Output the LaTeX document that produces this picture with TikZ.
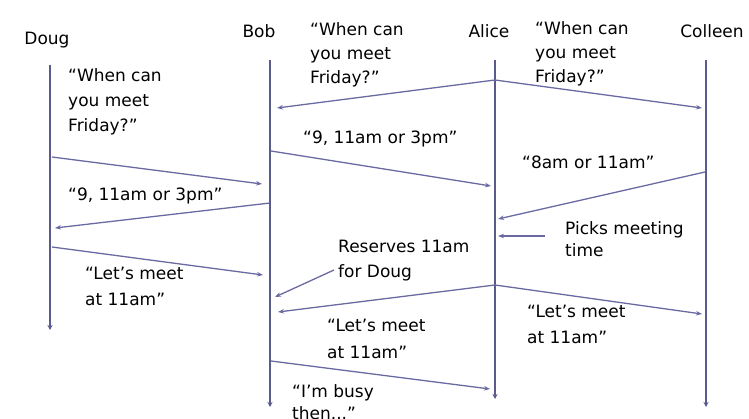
\documentclass[tikz,border=0pt]{standalone}
\usepackage{fontspec}
\setmainfont{DejaVu Sans}
\usetikzlibrary{arrows.meta}
\definecolor{lifeblue}{HTML}{5A5A8C}
\definecolor{msgblue}{HTML}{6A6AA2}
\begin{document}
\begin{tikzpicture}[x=1pt,y=-1pt,
  lifeline/.style={draw=lifeblue, line width=1.8pt, -{Stealth[length=5pt,width=5pt]}},
  msg/.style={draw=msgblue, line width=1.3pt, -{Stealth[length=6pt,width=4.5pt]}},
  who/.style={font=\fontsize{17}{20}\selectfont, inner sep=0pt, anchor=base},
  % anchored at the baseline of the last line; argument = line spacing
  note/.style={font=\fontsize{17}{#1}\selectfont, inner sep=0pt, anchor=base west, align=left},
  note/.default=24]
\useasboundingbox (0,0) rectangle (749,419);

% participants
\node[who] (doug)    at (47,45)  {Doug};
\node[who] (bob)     at (259,38) {Bob};
\node[who] (alice)   at (489,38) {Alice};
\node[who] (colleen) at (712,38) {Colleen};

% lifelines
\coordinate (dougT) at (50,65);   \coordinate (dougB) at (50,330);
\coordinate (bobT)  at (270,60);  \coordinate (bobB)  at (270,407);
\coordinate (aliceT) at (495,60); \coordinate (aliceB) at (495,399);
\coordinate (colT)  at (706,60);  \coordinate (colB)  at (706,407);
\draw[lifeline] (dougT) -- (dougB);
\draw[lifeline] (bobT) -- (bobB);
\draw[lifeline] (aliceT) -- (aliceB);
\draw[lifeline] (colT) -- (colB);

% message end points
\coordinate (a1) at (495,80);  \coordinate (b1) at (277,108);
\coordinate (c2) at (702,108);
\coordinate (d3) at (52,157);  \coordinate (b3) at (262,184);
\coordinate (b4) at (271,151); \coordinate (a4) at (491,186);
\coordinate (b5) at (270,203); \coordinate (d5) at (55,228);
\coordinate (c6) at (705,172); \coordinate (a6) at (498,219);
\coordinate (p7) at (545,236); \coordinate (a7) at (498,236);
\coordinate (d8) at (52,247);  \coordinate (b8) at (263,275);
\coordinate (r9) at (334,270); \coordinate (b9) at (275,297);
\coordinate (a10) at (495,285); \coordinate (b10) at (278,312);
\coordinate (c11) at (702,314);
\coordinate (b12) at (271,361); \coordinate (a12) at (490,389);

% messages
\draw[msg] (a1) -- (b1);
\draw[msg] (a1) -- (c2);
\draw[msg] (d3) -- (b3);
\draw[msg] (b4) -- (a4);
\draw[msg] (b5) -- (d5);
\draw[msg] (c6) -- (a6);
\draw[msg] (p7) -- (a7);
\draw[msg] (d8) -- (b8);
\draw[msg] (r9) -- (b9);
\draw[msg] (a10) -- (b10);
\draw[msg] (a10) -- (c11);
\draw[msg] (b12) -- (a12);

% message texts
\node[note]     (t1)  at (310,84)  {“When can\\you meet\\Friday?”};
\node[note]     (t2)  at (535,83)  {“When can\\you meet\\Friday?”};
\node[note=25]  (t3)  at (68,132)  {“When can\\you meet\\Friday?”};
\node[note]     (t4)  at (303,144) {“9, 11am or 3pm”};
\node[note]     (t5)  at (68,201)  {“9, 11am or 3pm”};
\node[note]     (t6)  at (522,169) {“8am or 11am”};
\node[note=22]  (t7)  at (565,257) {Picks meeting\\time};
\node[note=25]  (t8)  at (338,278) {Reserves 11am\\for Doug};
\node[note=26]  (t9)  at (85,306)  {“Let’s meet\\at 11am”};
\node[note=27]  (t10) at (327,358) {“Let’s meet\\at 11am”};
\node[note=26]  (t11) at (527,344) {“Let’s meet\\at 11am”};
\node[note=22]  (t12) at (292,419) {“I’m busy\\then...”};
\end{tikzpicture}
\end{document}
